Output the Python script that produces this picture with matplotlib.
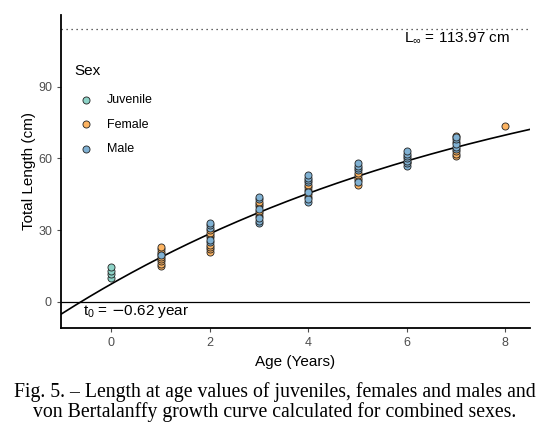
import numpy as np
import matplotlib
matplotlib.use("Agg")
import matplotlib.pyplot as plt

# von Bertalanffy parameters (combined sexes)
L_inf = 113.97
K = 0.11
t0 = -0.62

juv_age = [0, 0, 0, 0]
juv_len = [10, 11.5, 13, 14.5]

fem_age = [1, 1, 1, 1, 1, 1, 1, 1, 1,
           2, 2, 2, 2, 2, 2, 2, 2,
           3, 3, 3, 3, 3, 3,
           4, 4, 4, 4, 4,
           5, 5, 5, 5, 5,
           6,
           7, 7, 7, 7, 7,
           8]
fem_len = [15, 16, 17, 18, 19, 20, 21, 22, 23,
           21, 22, 23, 24, 27, 28, 29, 30,
           36, 37, 38, 40, 41, 42,
           44, 45, 47, 48, 49,
           49, 51, 52, 53, 54,
           58.5,
           61, 62, 63, 67, 69.5,
           73.5]

male_age = [1,
            2, 2, 2, 2, 2,
            3, 3, 3, 3, 3, 3,
            4, 4, 4, 4, 4, 4, 4,
            5, 5, 5, 5, 5,
            6, 6, 6, 6, 6, 6, 6,
            7, 7, 7, 7, 7]
male_len = [19.5,
            25, 26, 31, 32, 33,
            33, 34, 35, 39, 43, 44,
            42, 43, 46, 50, 51, 52, 53,
            50, 55, 56, 57, 58,
            57, 58, 59, 60, 61, 62, 63,
            64, 65, 66, 68, 69]

sexes = ["Juvenile", "Female", "Male"]
colors = ["#8DD3C7", "#FDB462", "#80B1D3"]

plt.rcParams["font.family"] = ["Liberation Sans", "DejaVu Sans"]

fig = plt.figure(figsize=(5.51, 4.38), dpi=100)
ax = fig.add_axes([0.1107, 0.2511, 0.8513, 0.7147])

ages = np.linspace(-1.02, 8.5, 200)
curve = L_inf * (1 - np.exp(-K * (ages - t0)))
ax.plot(ages, curve, color="black", lw=1.2, zorder=3)

ax.axhline(0, color="black", lw=0.9, zorder=1)
ax.axhline(L_inf, color="#333333", lw=0.9, ls=(0, (1, 3)), zorder=1)

groups = [(juv_age, juv_len), (fem_age, fem_len), (male_age, male_len)]
for (a, l), name, c in zip(groups, sexes, colors):
    ax.scatter(a, l, s=26, color=c, edgecolor="#222222", linewidth=0.6,
               label=name, zorder=4)

ax.text(8.1, 110.5, r"$\mathregular{L_{\infty}}$ = 113.97 cm", ha="right",
        va="center", fontsize=11)
ax.text(-0.57, -4.2, r"$\mathregular{t_0}$ = $-$0.62 year", ha="left",
        va="center", fontsize=11)

ax.set_xlim(-1.02, 8.5)
ax.set_ylim(-10.9, 120)
ax.set_xticks([0, 2, 4, 6, 8])
ax.set_yticks([0, 30, 60, 90])
ax.tick_params(colors="#4D4D4D", labelsize=9, length=3, width=0.8)
for side in ["top", "right"]:
    ax.spines[side].set_visible(False)
for side in ["left", "bottom"]:
    ax.spines[side].set_linewidth(1.3)
ax.set_xlabel("Age (Years)", fontsize=11, labelpad=4)
ax.set_ylabel("Total Length (cm)", fontsize=11, labelpad=1.5)

# legend (title drawn separately so its gap matches)
ax.text(0.0277, 0.821, "Sex", transform=ax.transAxes, ha="left",
        va="center", fontsize=11)
ax.legend(loc="upper left", bbox_to_anchor=(0.0085, 0.775),
          frameon=False, fontsize=9, handletextpad=0.65,
          labelspacing=1.0, borderaxespad=0.3)

fig.text(0.499, 0.1050,
         "Fig. 5. \u2013 Length at age values of juveniles, females and males and",
         ha="center", va="center", fontsize=14.2, family="Liberation Serif")
fig.text(0.499, 0.0595,
         "von Bertalanffy growth curve calculated for combined sexes.",
         ha="center", va="center", fontsize=14.2, family="Liberation Serif")

fig.savefig("out.png", dpi=100)
